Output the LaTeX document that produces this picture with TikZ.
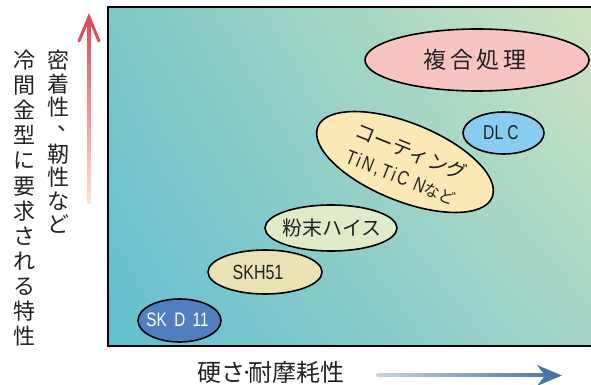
\documentclass[tikz,border=0pt]{standalone}
\usepackage{fontspec}
\setmainfont{Noto Sans CJK JP}
\newfontfamily\jp{Noto Sans CJK JP}
\newfontfamily\narrow[FakeStretch=0.78]{Liberation Sans}
\newfontfamily\narrowsp[FakeStretch=0.78,LetterSpace=12]{Liberation Sans}
\usetikzlibrary{shapes.geometric,arrows.meta,shadings}
\definecolor{bgLL}{HTML}{62BFD0}
\definecolor{bgUL}{HTML}{7EC8C8}
\definecolor{bgUR}{HTML}{CFE5C0}
\definecolor{bgLR}{HTML}{A4D5C8}
\definecolor{txt}{HTML}{222222}
\definecolor{pinkfill}{HTML}{F8C4C0}
\definecolor{dlcfill}{HTML}{88CCF0}
\definecolor{coatfill}{HTML}{FCE8B4}
\definecolor{powfill}{HTML}{E0ECC8}
\definecolor{skhfill}{HTML}{EBE2B4}
\definecolor{skdfill}{HTML}{4F7FC0}
\definecolor{upTop}{HTML}{E04A5C}
\definecolor{upBot}{HTML}{FDE6CC}
\definecolor{rtL}{HTML}{C4D4DE}
\definecolor{rtR}{HTML}{4A74A8}
\tikzset{
  blob/.style={ellipse, draw=black, line width=1.6pt, inner sep=0pt},
  lbl/.style={text=txt, inner sep=0pt},
  vtext/.style={text=txt, inner sep=0pt, align=center},
}
\begin{document}
\begin{tikzpicture}[x=1pt,y=-1pt]
\useasboundingbox (0,0) rectangle (591,385);
% background panel
\shade[upper left=bgUL, upper right=bgUR, lower left=bgLL, lower right=bgLR]
  (108,7) rectangle (591,346);
\draw[line width=2.4pt, black] (591,7) -- (108,7) -- (108,346) -- (591,346);

% vertical labels
\node[vtext, anchor=north, font=\jp\fontsize{22}{23.4}\selectfont] (colA) at (58,50) {密\\着\\性\\\phantom{密}\\靭\\性\\な\\ど};
\node[lbl, anchor=base west, font=\jp\fontsize{22}{23.4}\selectfont] (colAc) at (57,130) {、};
\node[vtext, anchor=north, font=\jp\fontsize{22}{25.1}\selectfont] (colB) at (24,50) {冷\\間\\金\\型\\に\\要\\求\\さ\\れ\\る\\特\\性};

% up arrow with gradient
\coordinate (upS) at (89,203);
\coordinate (upE) at (89,22);
\shade[bottom color=upBot, top color=upTop] (87.5,203) rectangle (90.5,22);
\fill[upBot] (89,203) circle (1.5);
\node[inner sep=0pt] (uphead) at (89,16) {};
\draw[upTop, line width=3pt, line cap=round, line join=miter] (79,41) -- (89,17) -- (99,41);

% right arrow with gradient
\coordinate (rtS) at (377,375);
\coordinate (rtE) at (552,375);
\shade[left color=rtL, right color=rtR] (377,373.3) rectangle (552,376.7);
\fill[rtL] (377,375) circle (1.7);
\node[inner sep=0pt] (rthead) at (562,375) {};
\fill[rtR] (537,365) -- (562,375.5) -- (537,386) -- (545,375.5) -- cycle;

% x label
\node[lbl, font=\jp\fontsize{24}{26}\selectfont] (xlab) at (271,372) {硬さ{\kern-0.2em}·{\kern-0.2em}耐摩耗性};

% ellipses
\node[blob, fill=pinkfill, minimum width=224pt, minimum height=62pt] (fukugo) at (477,60) {};
\node[lbl, font=\jp\fontsize{23}{26}\selectfont] (fukugoT) at (475,60) {複\,合\,処\,理};

\node[blob, fill=dlcfill, minimum width=81pt, minimum height=42pt] (dlc) at (503.5,133) {};
\node[lbl, font=\narrow\fontsize{20}{24}\selectfont] (dlcT) at (501,133) {DL C};

\node[blob, fill=coatfill, minimum width=188pt, minimum height=78pt, rotate=-22] (coat) at (405,162) {};
\node[lbl, rotate=-22, align=center, font=\jp\fontsize{20}{27}\selectfont] (coatT) at (406,165)
  {コーティング\\{\narrowsp\fontsize{20}{27}\selectfont TiN,TiC N}{\fontsize{16}{27}\selectfont など}};

\node[blob, fill=powfill, minimum width=132pt, minimum height=46pt] (pow) at (331,228) {};
\node[lbl, font=\jp\fontsize{20}{24}\selectfont] (powT) at (332,228) {粉末ハイス};

\node[blob, fill=skhfill, minimum width=114pt, minimum height=44pt] (skh) at (265,272) {};
\node[lbl, font=\narrow\fontsize{20.5}{24}\selectfont] (skhT) at (258,272) {SKH51};

\node[blob, fill=skdfill, minimum width=83pt, minimum height=43pt] (skd) at (179.5,320.5) {};
\node[lbl, text=white, font=\narrow\fontsize{19.5}{23}\selectfont] (skdT) at (177.5,320) {SK\,\ D\,\ 11};
\end{tikzpicture}
\end{document}
